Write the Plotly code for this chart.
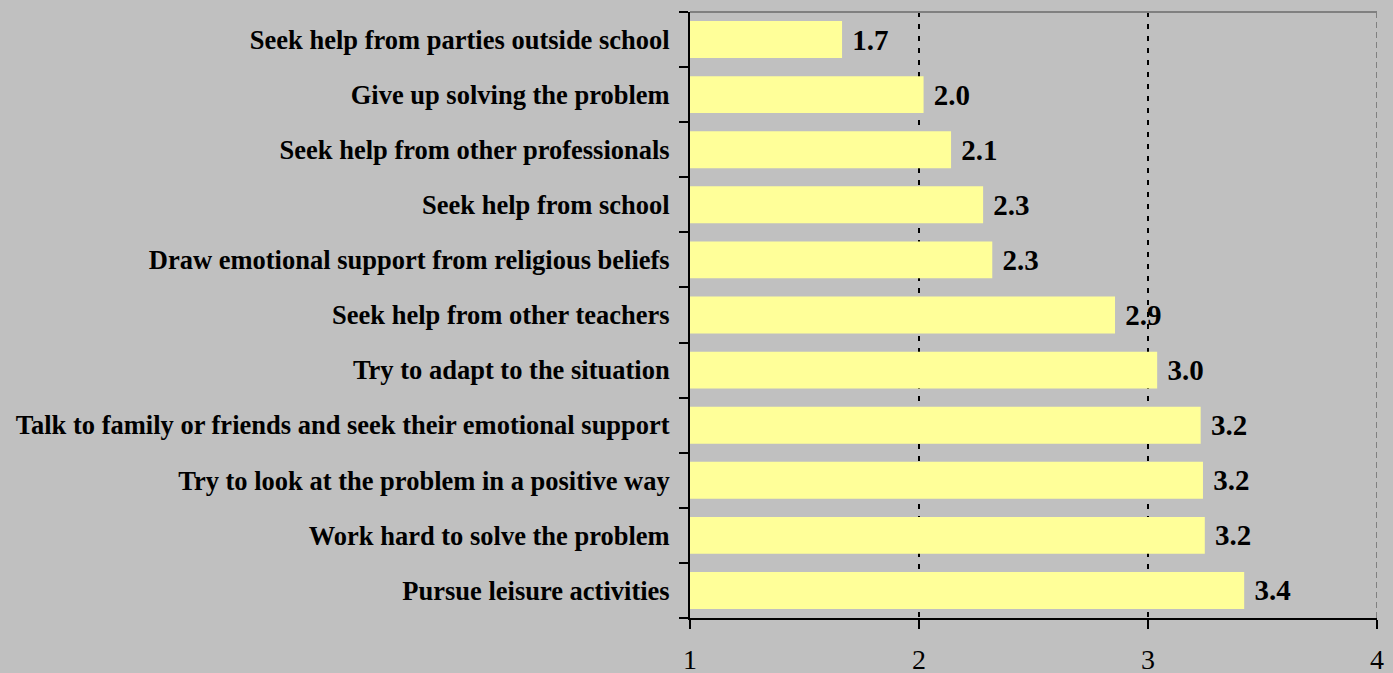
import plotly.graph_objects as go

categories = [
    "Seek help from parties outside school",
    "Give up solving the problem",
    "Seek help from other professionals",
    "Seek help from school",
    "Draw emotional support from religious beliefs",
    "Seek help from other teachers",
    "Try to adapt to the situation",
    "Talk to family or friends and seek their emotional support",
    "Try to look at the problem in a positive way",
    "Work hard to solve the problem",
    "Pursue leisure activities",
]
values = [1.664, 2.02, 2.14, 2.28, 2.32, 2.856, 3.04, 3.23, 3.24, 3.248, 3.42]
x_ticks = [1, 2, 3, 4]

FONT = "Liberation Serif, Times New Roman, serif"

fig = go.Figure(
    go.Bar(
        y=categories,
        x=values,
        orientation="h",
        marker=dict(color="#FFFF99", line=dict(width=0)),
        texttemplate="&nbsp;<b>%{x:.1f}</b>",
        textposition="outside",
        constraintext="none",
        textfont=dict(family=FONT, size=29, color="black"),
        cliponaxis=False,
    )
)

fig.update_layout(
    width=1393,
    height=673,
    margin=dict(l=690, r=16, t=12, b=55, autoexpand=False),
    paper_bgcolor="#C0C0C0",
    plot_bgcolor="#C0C0C0",
    bargap=0.33,
    showlegend=False,
    font=dict(family=FONT, color="black"),
)

fig.update_xaxes(
    range=[1, 4],
    tickvals=x_ticks,
    ticktext=[str(v) for v in x_ticks],
    showline=True,
    linecolor="black",
    linewidth=2,
    ticks="outside",
    ticklen=9,
    tickwidth=2,
    tickcolor="black",
    tickfont=dict(family=FONT, size=28, color="black"),
    ticklabelstandoff=6,
    showgrid=True,
    gridcolor="black",
    gridwidth=2,
    griddash="5px,7px",
    zeroline=False,
    fixedrange=True,
    automargin=False,
)

fig.update_yaxes(
    autorange="reversed",
    showline=True,
    linecolor="black",
    linewidth=2,
    ticks="outside",
    tickson="boundaries",
    ticklen=9,
    tickwidth=2,
    tickcolor="black",
    tickfont=dict(family=FONT, size=26.5, color="black"),
    ticklabelstandoff=13,
    showgrid=False,
    categoryorder="array",
    categoryarray=categories,
    tickvals=categories,
    ticktext=[f"<b>{c}</b>" for c in categories],
    automargin=False,
    fixedrange=True,
)

# gray top border and gray dashed right edge (x = 4)
fig.add_shape(type="line", xref="paper", yref="paper", x0=0, x1=1, y0=1, y1=1,
              line=dict(color="#808080", width=2), layer="above")
fig.add_shape(type="line", xref="x", yref="paper", x0=x_ticks[-1], x1=x_ticks[-1], y0=0, y1=1,
              line=dict(color="#808080", width=2, dash="6px,4px"), layer="above")

fig.write_html(
    "out.html",
    config={"displayModeBar": False},
    post_script="document.body.style.margin='0';document.body.style.padding='0';document.body.style.background='#C0C0C0';",
)
